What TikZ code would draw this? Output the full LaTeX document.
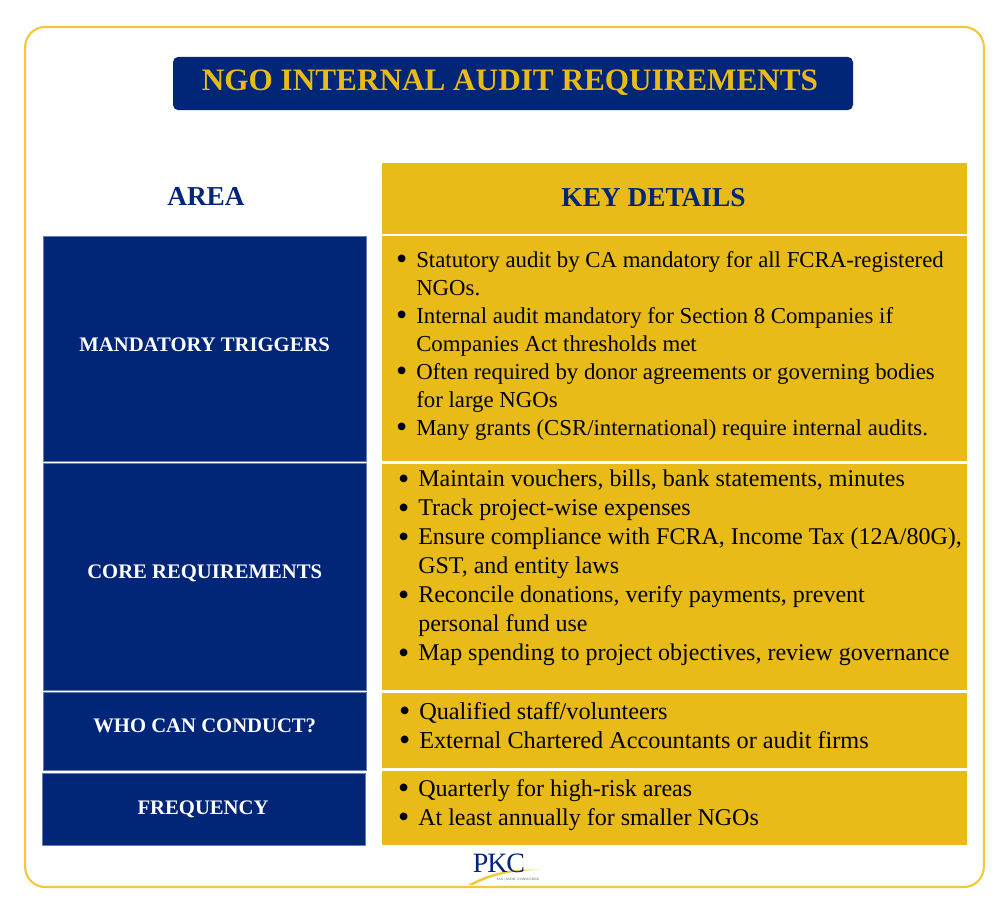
\documentclass[tikz,border=0pt]{standalone}
\usepackage{fontspec}
\setmainfont{Liberation Serif}
\usepackage{tikz}
\usetikzlibrary{positioning}
\definecolor{navy}{HTML}{012677}
\definecolor{gold}{HTML}{E9BB18}
\definecolor{framegold}{HTML}{F2C73C}
\tikzstyle{areacell} = [fill=navy, draw=navy!60!white, line width=0.4pt, inner sep=0pt, minimum width=242.5pt]
\tikzstyle{arealabel} = [text=white, inner sep=0pt, font=\fontsize{15.5}{18}\selectfont\bfseries]
\tikzstyle{detailcell} = [fill=gold, inner sep=0pt, minimum width=438.5pt]
\tikzstyle{head} = [text=navy, inner sep=0pt, font=\fontsize{20.5}{24}\selectfont\bfseries]
\tikzstyle{bullets} = [anchor=north west, inner sep=0pt, align=left, text=black]
\newcommand{\bl}{\leavevmode\llap{\raisebox{-1.6pt}{\fontsize{24}{24}\selectfont\textbullet}\hspace{6.8pt}}}

\begin{document}
\begin{tikzpicture}[x=0.75pt,y=-0.75pt]
\useasboundingbox (0,0) rectangle (998,912);

\node[draw=framegold, line width=1.6pt, rounded corners=15pt, minimum width=719pt, minimum height=645pt,
inner sep=0pt, name = frame] at (504.5,457) {};

\node[fill=navy, rounded corners=4pt, minimum width=510pt, minimum height=40pt, inner sep=0pt, name = title,
label={[text=gold, inner sep=0pt, xshift=-2.25pt, yshift=0.75pt, font=\fontsize{23.4}{26}\selectfont\bfseries]center:NGO INTERNAL AUDIT REQUIREMENTS}]
at (513,83.5) {};

% left column
\node[head, name = area] at (206,196) {AREA};
\node[areacell, minimum height=168.5pt, name = trig,
label={[arealabel, yshift=3pt]center:MANDATORY TRIGGERS}] at (204.7,348.5) {};
\node[areacell, minimum height=170pt, name = core, below=1.5pt of trig,
label={[arealabel, yshift=2.5pt]center:CORE REQUIREMENTS}] {};
\node[areacell, minimum height=58pt, name = who, below=1.5pt of core,
label={[arealabel, yshift=4pt]center:WHO CAN CONDUCT?}] {};
\node[areacell, minimum height=54pt, name = freq, below=2pt of who, xshift=-0.75pt,
label={[arealabel, xshift=-0.5pt, yshift=-0.5pt]center:FREQUENCY}] {};

% right column
\node[detailcell, minimum height=53pt, name = key,
label={[head, xshift=-15.75pt, yshift=1pt]center:KEY DETAILS}] at (674.5,198.5) {};
\node[detailcell, minimum height=168.5pt, name = trigd, below=1.5pt of key] {};
\node[detailcell, minimum height=169.5pt, name = cored, below=1.5pt of trigd] {};
\node[detailcell, minimum height=56.5pt, name = whod, below=2pt of cored] {};
\node[detailcell, minimum height=55.5pt, name = freqd, below=2pt of whod] {};

\node[bullets, font=\fontsize{17.1}{21}\selectfont, name = trigt] at (416,251) {%
\bl Statutory audit by CA mandatory for all FCRA-registered\\
NGOs.\\
\bl Internal audit mandatory for Section 8 Companies if\\
Companies Act thresholds met\\
\bl Often required by donor agreements or governing bodies\\
for large NGOs\\
\bl Many grants (CSR/international) require internal audits.};

\node[bullets, font=\fontsize{18}{21.75}\selectfont, name = coret] at (418,470) {%
\bl Maintain vouchers, bills, bank statements, minutes\\
\bl Track project-wise expenses\\
\bl Ensure compliance with FCRA, Income Tax (12A/80G),\\
GST, and entity laws\\
\bl Reconcile donations, verify payments, prevent\\
personal fund use\\
\bl Map spending to project objectives, review governance};

\node[bullets, font=\fontsize{18.2}{21.75}\selectfont, name = whot] at (419,702) {%
\bl Qualified staff/volunteers\\
\bl External Chartered Accountants or audit firms};

\node[bullets, font=\fontsize{18}{21.75}\selectfont, name = freqt] at (418,779) {%
\bl Quarterly for high-risk areas\\
\bl At least annually for smaller NGOs};

% logo
\fill[framegold] (468,885) .. controls (490,872) and (515,868) .. (541,870)
.. controls (515,870) and (492,875) .. (473,885) -- cycle;
\node[text=navy, inner sep=0pt, font=\fontsize{21}{22}\selectfont, name = pkc] at (499,863) {\addfontfeature{LetterSpace=-4}PKC};
\node[text=black!70, inner sep=0pt, font=\fontsize{2.5}{3}\selectfont, name = tag] at (518,880) {TAX | AUDIT | CONSULTING};
\end{tikzpicture}
\end{document}
